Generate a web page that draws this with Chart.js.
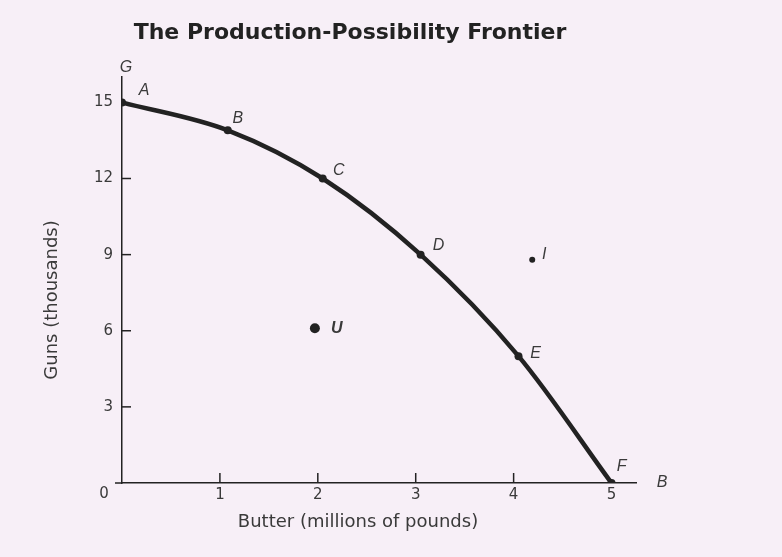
<!DOCTYPE html>
<html>
<head>
<meta charset="utf-8">
<script src="https://cdn.jsdelivr.net/npm/chart.js@4/dist/chart.umd.min.js"></script>
<style>
  html, body { margin: 0; padding: 0; background: #f7eff7; }
  #wrap { width: 782px; height: 557px; }
</style>
</head>
<body>
<div id="wrap"><canvas id="ppf"></canvas></div>
<script>
// frontier points A..F (butter, guns)
const frontierLabels = ['A', 'B', 'C', 'D', 'E', 'F'];
const butter = [0, 1.08, 2.05, 3.05, 4.05, 5];
const guns = [15, 13.9, 12, 9, 5, 0];

// points off the frontier
const extraLabels = ['U', 'I'];
const extraButter = [1.97, 4.19];
const extraGuns = [6.1, 8.8];

const xTicks = [1, 2, 3, 4, 5];
const yTicks = [3, 6, 9, 12, 15];

const INK = '#222';
const TEXT = '#3a3a3a';
const TITLE = 'The Production-Possibility Frontier';
const X_TITLE = 'Butter (millions of pounds)';
const Y_TITLE = 'Guns (thousands)';
const TICK_FONT = { family: '"DejaVu Sans", sans-serif', size: 15 };

// titles, inward tick marks + letter labels
const ppfDecor = {
  id: 'ppfDecor',
  afterDraw(chart) {
    const { ctx, scales: { x, y } } = chart;
    const x0 = x.getPixelForValue(0);
    const y0 = y.getPixelForValue(0);
    ctx.save();

    ctx.fillStyle = '#222';
    ctx.textAlign = 'center';
    ctx.textBaseline = 'middle';
    ctx.font = 'bold 22px "DejaVu Sans", sans-serif';
    ctx.fillText(TITLE, 350, 33);

    ctx.fillStyle = TEXT;
    ctx.font = '18px "DejaVu Sans", sans-serif';
    ctx.fillText(X_TITLE, 358, 522);
    ctx.save();
    ctx.translate(52, 300);
    ctx.rotate(-Math.PI / 2);
    ctx.fillText(Y_TITLE, 0, 0);
    ctx.restore();

    ctx.strokeStyle = INK;
    ctx.lineWidth = 1.5;
    xTicks.slice(0, 4).forEach(v => {
      const px = x.getPixelForValue(v);
      ctx.beginPath(); ctx.moveTo(px, y0); ctx.lineTo(px, y0 - 10); ctx.stroke();
    });
    yTicks.slice(0, 4).forEach(v => {
      const py = y.getPixelForValue(v);
      ctx.beginPath(); ctx.moveTo(x0, py); ctx.lineTo(x0 + 9, py); ctx.stroke();
    });
    // extend x axis a little left of origin
    ctx.beginPath(); ctx.moveTo(x0 - 7, y0); ctx.lineTo(x0, y0); ctx.stroke();

    ctx.font = '15px "DejaVu Sans", sans-serif';
    ctx.fillText('0', x0 - 18, y0 + 11);

    ctx.font = 'italic 16px "Liberation Sans", Arial, sans-serif';
    ctx.fillText('G', x0 + 4, y.top - 9);
    ctx.fillText('B', x.right + 26, y0);

    const offs = [[22, -12], [10, -12], [16, -8], [18, -9], [17, -3], [10, -16]];
    frontierLabels.forEach((lab, i) => {
      const px = x.getPixelForValue(butter[i]);
      const py = y.getPixelForValue(guns[i]);
      ctx.fillText(lab, px + offs[i][0], py + offs[i][1]);
    });
    ctx.font = 'bold italic 16px "Liberation Sans", Arial, sans-serif';
    let px = x.getPixelForValue(extraButter[0]);
    let py = y.getPixelForValue(extraGuns[0]);
    ctx.fillText(extraLabels[0], px + 22, py);
    ctx.font = 'italic 16px "Liberation Sans", Arial, sans-serif';
    px = x.getPixelForValue(extraButter[1]);
    py = y.getPixelForValue(extraGuns[1]);
    ctx.fillText(extraLabels[1], px + 12, py - 5);
    ctx.restore();
  }
};

new Chart(document.getElementById('ppf'), {
  type: 'scatter',
  data: {
    datasets: [
      {
        type: 'line',
        data: butter.map((b, i) => ({ x: b, y: guns[i] })),
        borderColor: INK,
        borderWidth: 4.5,
        pointRadius: 4,
        pointBackgroundColor: INK,
        pointBorderWidth: 0,
        cubicInterpolationMode: 'monotone',
        fill: false
      },
      {
        data: [{ x: extraButter[0], y: extraGuns[0] }],
        pointRadius: 5,
        pointBackgroundColor: INK,
        pointBorderWidth: 0
      },
      {
        data: [{ x: extraButter[1], y: extraGuns[1] }],
        pointRadius: 3,
        pointBackgroundColor: INK,
        pointBorderWidth: 0
      }
    ]
  },
  options: {
    responsive: true,
    maintainAspectRatio: false,
    animation: false,
    events: [],
    layout: { padding: { left: 0, right: 146, top: 77, bottom: 0 } },
    plugins: {
      legend: { display: false },
      tooltip: { enabled: false },
      title: { display: false }
    },
    scales: {
      x: {
        type: 'linear',
        min: 0,
        max: 5.25,
        afterBuildTicks: s => { s.ticks = xTicks.map(v => ({ value: v })); },
        afterFit: s => { s.height = 74; },
        grid: { display: false, drawTicks: false },
        border: { display: true, color: INK, width: 1.5 },
        ticks: { color: TEXT, padding: 3, font: TICK_FONT },
        title: { display: false }
      },
      y: {
        type: 'linear',
        min: 0,
        max: 16,
        afterBuildTicks: s => { s.ticks = yTicks.map(v => ({ value: v })); },
        afterFit: s => { s.width = 122; },
        grid: { display: false, drawTicks: false },
        border: { display: true, color: INK, width: 1.5 },
        ticks: { color: TEXT, padding: 9, font: TICK_FONT },
        title: { display: false }
      }
    }
  },
  plugins: [ppfDecor]
});
</script>
</body>
</html>
